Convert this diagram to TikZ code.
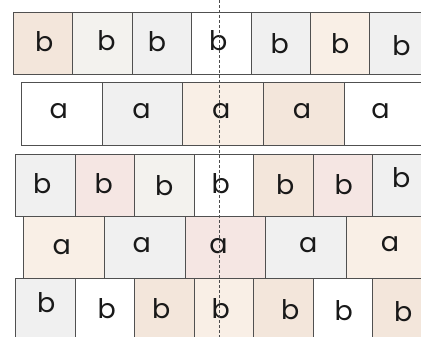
\documentclass[tikz,border=0pt]{standalone}
\usepackage{fontspec}
\newfontfamily\brickfont{Poppins}

\definecolor{tanbox}{HTML}{F3E6DB}
\definecolor{peachbox}{HTML}{F9EFE6}
\definecolor{creambox}{HTML}{F3F2EE}
\definecolor{greybox}{HTML}{F0F0F0}
\definecolor{pinkbox}{HTML}{F5E6E3}
\definecolor{edgegrey}{HTML}{505050}

\tikzset{
  brick/.style={rectangle,draw=edgegrey,line width=0.9pt,minimum height=62pt,
    inner sep=0pt,anchor=north west},
  letter/.style={font=\brickfont\fontsize{27}{31}\selectfont,text=black!90},
  cut/.style={draw=black!70,line width=0.7pt,dash pattern=on 3pt off 2pt},
}

\begin{document}
\begin{tikzpicture}[x=1pt,y=-1pt]
  \useasboundingbox (0,0) rectangle (421,337);
  \clip (0,0) rectangle (421,337);
  % row 1
  \foreach \c/\dx/\dy [count=\i from 0] in {tanbox/1/2,creambox/4/3,greybox/-5/2,white/-3/3,greybox/-1/0,peachbox/0/0,greybox/2/-2}
    \node[brick,minimum width=59.4pt,fill=\c,label={[letter,xshift=\dx pt,yshift=\dy pt]center:b}] (r1c\i) at ({13+59.4*\i},12) {};
  % row 2
  \foreach \c/\dx/\dy [count=\i from 0] in {white/-3/3,greybox/-1/3,peachbox/-2/3,tanbox/-2/3,white/-4/3}
    \node[brick,minimum width=80.7pt,minimum height=63pt,fill=\c,label={[letter,xshift=\dx pt,yshift=\dy pt]center:a}] (r2c\i) at ({21+80.7*\i},82) {};
  % row 3
  \foreach \c/\dx/\dy [count=\i from 0] in {greybox/-3/2,pinkbox/-1/2,creambox/0/0,white/-3/2,tanbox/2/1,pinkbox/1/1,greybox/-1/8}
    \node[brick,minimum width=59.5pt,fill=\c,label={[letter,xshift=\dx pt,yshift=\dy pt]center:b}] (r3c\i) at ({15+59.5*\i},154) {};
  % row 4
  \foreach \c/\dx/\dy [count=\i from 0] in {peachbox/-2/0,greybox/-3/2,pinkbox/-7/1,greybox/2/2,peachbox/3/3}
    \node[brick,minimum width=80.8pt,fill=\c,label={[letter,xshift=\dx pt,yshift=\dy pt]center:a}] (r4c\i) at ({23+80.8*\i},216) {};
  % row 5
  \foreach \c/\dx/\dy [count=\i from 0] in {greybox/1/7,white/2/1,tanbox/-3/1,peachbox/-3/1,tanbox/7/0,white/1/-1,tanbox/1/-2}
    \node[brick,minimum width=59.5pt,fill=\c,label={[letter,xshift=\dx pt,yshift=\dy pt]center:b}] (r5c\i) at ({15+59.5*\i},278) {};
  % cut line
  \coordinate (cutTop) at (219,0);
  \coordinate (cutBot) at (219,337);
  \draw[cut] (cutTop) -- (cutBot);
\end{tikzpicture}
\end{document}
